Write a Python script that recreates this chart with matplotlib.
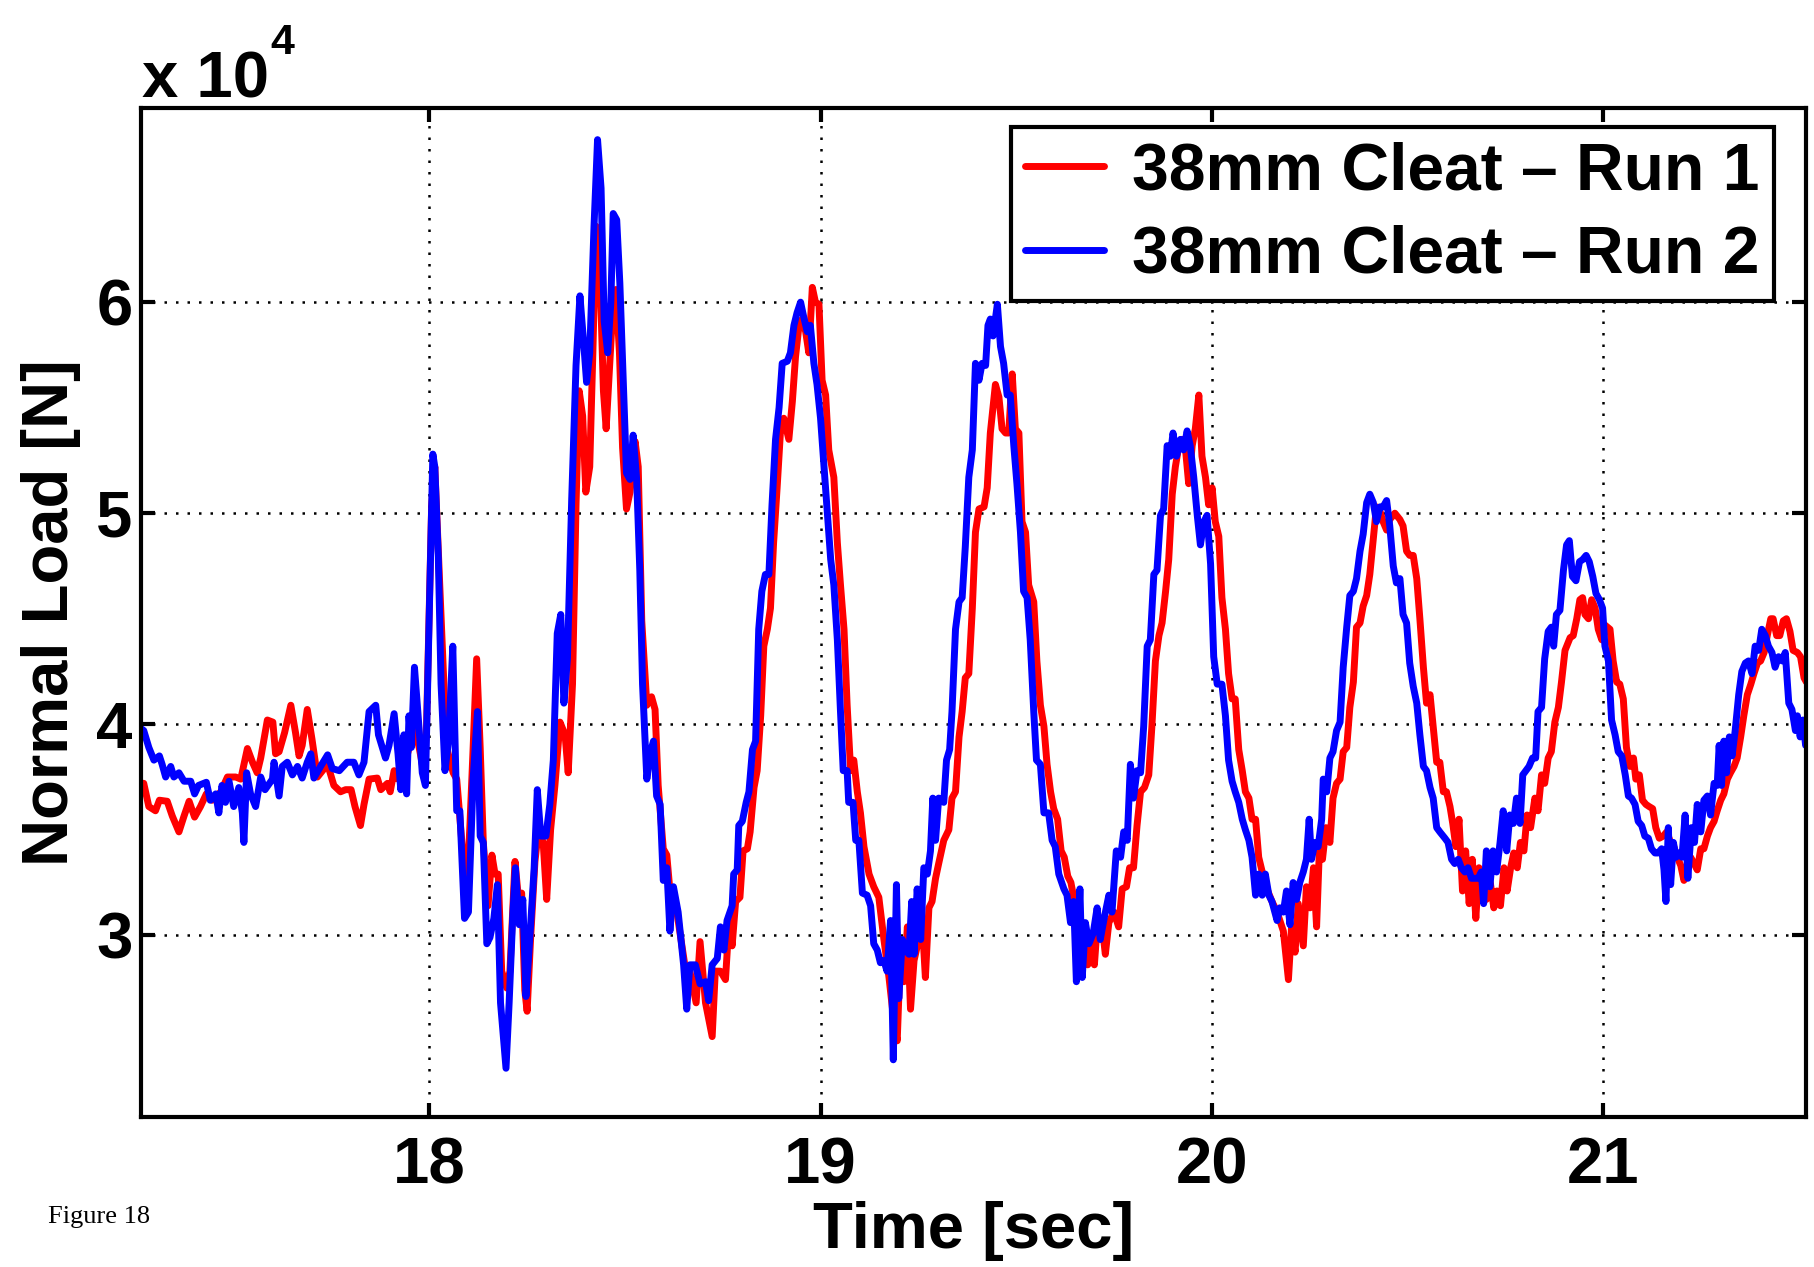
import matplotlib
matplotlib.use('Agg')
import matplotlib.pyplot as plt

plt.rcParams['font.family'] = ['Liberation Sans', 'DejaVu Sans']
plt.rcParams['font.weight'] = 'bold'

# Normal load in units of 10^4 N
t_run1 = [
    17.263, 17.270, 17.283, 17.300, 17.310, 17.330, 17.343, 17.360, 17.373, 17.386,
    17.400, 17.415, 17.430, 17.445, 17.467, 17.484, 17.505, 17.518, 17.535, 17.548,
    17.560, 17.569, 17.586, 17.600, 17.607, 17.616, 17.630, 17.646, 17.658, 17.667,
    17.675, 17.688, 17.700, 17.714, 17.740, 17.756, 17.773, 17.786, 17.800, 17.810,
    17.824, 17.833, 17.846, 17.867, 17.876, 17.893, 17.900, 17.910, 17.920, 17.935,
    17.948, 17.960, 17.974, 17.986, 17.993, 18.006, 18.014, 18.027, 18.036, 18.044,
    18.061, 18.070, 18.078, 18.095, 18.104, 18.112, 18.121, 18.130, 18.138, 18.150,
    18.160, 18.168, 18.176, 18.185, 18.198, 18.206, 18.219, 18.228, 18.236, 18.244,
    18.250, 18.259, 18.270, 18.279, 18.291, 18.300, 18.310, 18.321, 18.334, 18.347,
    18.355, 18.366, 18.375, 18.383, 18.392, 18.400, 18.410, 18.418, 18.426, 18.436,
    18.445, 18.452, 18.460, 18.469, 18.477, 18.486, 18.494, 18.504, 18.513, 18.526,
    18.534, 18.543, 18.556, 18.568, 18.577, 18.585, 18.598, 18.607, 18.617, 18.628,
    18.640, 18.653, 18.666, 18.682, 18.692, 18.706, 18.723, 18.731, 18.744, 18.757,
    18.766, 18.774, 18.783, 18.794, 18.802, 18.813, 18.820, 18.830, 18.838, 18.847,
    18.855, 18.864, 18.872, 18.880, 18.889, 18.898, 18.906, 18.919, 18.928, 18.936,
    18.945, 18.953, 18.962, 18.970, 18.979, 18.987, 18.996, 19.004, 19.013, 19.021,
    19.034, 19.043, 19.051, 19.060, 19.068, 19.077, 19.085, 19.094, 19.102, 19.111,
    19.124, 19.136, 19.149, 19.162, 19.175, 19.187, 19.196, 19.204, 19.213, 19.222,
    19.230, 19.239, 19.251, 19.260, 19.268, 19.277, 19.285, 19.294, 19.302, 19.315,
    19.328, 19.336, 19.345, 19.354, 19.362, 19.370, 19.379, 19.388, 19.396, 19.405,
    19.418, 19.426, 19.434, 19.447, 19.456, 19.464, 19.473, 19.481, 19.490, 19.498,
    19.507, 19.515, 19.524, 19.532, 19.545, 19.553, 19.562, 19.571, 19.579, 19.588,
    19.596, 19.606, 19.615, 19.623, 19.632, 19.640, 19.649, 19.660, 19.673, 19.683,
    19.692, 19.700, 19.709, 19.720, 19.728, 19.737, 19.750, 19.762, 19.771, 19.782,
    19.790, 19.800, 19.809, 19.818, 19.828, 19.839, 19.847, 19.856, 19.865, 19.873,
    19.882, 19.890, 19.899, 19.907, 19.916, 19.924, 19.933, 19.941, 19.950, 19.958,
    19.967, 19.975, 19.984, 19.992, 20.001, 20.009, 20.018, 20.026, 20.035, 20.043,
    20.052, 20.060, 20.069, 20.078, 20.086, 20.095, 20.103, 20.112, 20.120, 20.133,
    20.141, 20.154, 20.167, 20.174, 20.183, 20.196, 20.204, 20.213, 20.221, 20.234,
    20.242, 20.251, 20.260, 20.268, 20.275, 20.283, 20.292, 20.302, 20.310, 20.319,
    20.328, 20.336, 20.345, 20.353, 20.362, 20.370, 20.379, 20.387, 20.396, 20.404,
    20.413, 20.421, 20.430, 20.438, 20.447, 20.455, 20.468, 20.481, 20.489, 20.498,
    20.506, 20.515, 20.524, 20.532, 20.541, 20.549, 20.558, 20.566, 20.575, 20.583,
    20.592, 20.600, 20.609, 20.616, 20.624, 20.632, 20.641, 20.649, 20.658, 20.666,
    20.675, 20.683, 20.694, 20.702, 20.712, 20.721, 20.729, 20.738, 20.747, 20.755,
    20.764, 20.772, 20.781, 20.789, 20.798, 20.806, 20.815, 20.826, 20.834, 20.843,
    20.851, 20.860, 20.868, 20.877, 20.886, 20.894, 20.903, 20.916, 20.924, 20.933,
    20.941, 20.948, 20.954, 20.963, 20.971, 20.980, 20.988, 20.997, 21.005, 21.018,
    21.026, 21.035, 21.043, 21.052, 21.060, 21.069, 21.078, 21.084, 21.093, 21.101,
    21.110, 21.118, 21.127, 21.135, 21.144, 21.154, 21.163, 21.173, 21.181, 21.190,
    21.199, 21.207, 21.216, 21.224, 21.233, 21.241, 21.250, 21.258, 21.267, 21.275,
    21.284, 21.292, 21.301, 21.309, 21.318, 21.326, 21.335, 21.343, 21.352, 21.360,
    21.369, 21.378, 21.386, 21.395, 21.403, 21.412, 21.420, 21.429, 21.435, 21.444,
    21.452, 21.461, 21.469, 21.478, 21.486, 21.497, 21.505, 21.514, 21.520,
]
load_run1 = [
    3.72, 3.72, 3.61, 3.59, 3.64, 3.635, 3.565, 3.49, 3.565, 3.635,
    3.56, 3.61, 3.67, 3.64, 3.68, 3.75, 3.75, 3.74, 3.885, 3.82,
    3.77, 3.84, 4.02, 4.01, 3.86, 3.87, 3.96, 4.09, 3.96, 3.85,
    3.90, 4.07, 3.93, 3.75, 3.81, 3.71, 3.68, 3.69, 3.69, 3.61,
    3.52, 3.62, 3.74, 3.745, 3.69, 3.72, 3.68, 3.78, 3.74, 3.80,
    3.885, 4.00, 3.89, 3.77, 4.00, 5.04, 5.22, 4.64, 4.25, 3.89,
    3.77, 3.74, 3.56, 3.17, 3.53, 3.89, 4.31, 3.89, 3.44, 3.14,
    3.38, 3.29, 3.29, 2.83, 2.75, 2.83, 3.35, 3.17, 3.20, 2.74,
    2.64, 2.99, 3.35, 3.50, 3.44, 3.17, 3.50, 3.71, 4.01, 3.95,
    3.77, 4.19, 5.04, 5.58, 5.46, 5.10, 5.22, 5.76, 6.36, 6.15,
    5.58, 5.40, 5.67, 5.97, 6.06, 5.76, 5.31, 5.02, 5.10, 5.34,
    5.22, 4.49, 4.09, 4.13, 4.07, 3.71, 3.41, 3.38, 3.17, 3.17,
    3.02, 2.86, 2.83, 2.68, 2.97, 2.68, 2.52, 2.83, 2.83, 2.79,
    3.06, 2.95, 3.16, 3.18, 3.40, 3.41, 3.49, 3.70, 3.78, 4.04,
    4.37, 4.45, 4.55, 4.86, 5.12, 5.40, 5.45, 5.35, 5.53, 5.74,
    5.89, 5.92, 5.86, 5.76, 6.07, 6.00, 5.99, 5.63, 5.56, 5.30,
    5.17, 4.86, 4.66, 4.45, 4.09, 3.78, 3.83, 3.68, 3.58, 3.42,
    3.29, 3.23, 3.18, 2.98, 2.80, 2.60, 2.50, 2.91, 2.78, 3.04,
    2.65, 2.88, 2.98, 3.06, 2.80, 3.13, 3.16, 3.27, 3.34, 3.45,
    3.50, 3.65, 3.68, 3.94, 4.06, 4.22, 4.24, 4.55, 4.91, 5.02,
    5.03, 5.12, 5.38, 5.61, 5.55, 5.40, 5.38, 5.38, 5.66, 5.40,
    5.38, 4.96, 4.91, 4.66, 4.58, 4.30, 4.09, 3.99, 3.81, 3.68,
    3.60, 3.55, 3.40, 3.37, 3.28, 3.25, 3.16, 3.09, 3.04, 2.86,
    3.01, 2.86, 3.09, 3.04, 2.91, 3.06, 3.11, 3.04, 3.22, 3.23,
    3.32, 3.32, 3.52, 3.68, 3.70, 3.76, 3.99, 4.30, 4.42, 4.48,
    4.63, 4.78, 5.09, 5.22, 5.32, 5.35, 5.30, 5.14, 5.32, 5.40,
    5.56, 5.27, 5.17, 5.04, 5.12, 4.96, 4.89, 4.60, 4.45, 4.24,
    4.12, 4.12, 3.88, 3.78, 3.68, 3.65, 3.55, 3.55, 3.37, 3.27,
    3.22, 3.16, 3.11, 3.07, 3.02, 2.79, 3.04, 2.92, 3.15, 2.95,
    3.23, 3.13, 3.32, 3.04, 3.40, 3.36, 3.51, 3.44, 3.65, 3.72,
    3.74, 3.87, 3.89, 4.08, 4.20, 4.46, 4.48, 4.56, 4.61, 4.71,
    4.88, 5.03, 5.01, 4.96, 4.92, 4.97, 5.00, 4.97, 4.94, 4.82,
    4.80, 4.80, 4.69, 4.50, 4.27, 4.10, 4.14, 3.99, 3.82, 3.82,
    3.68, 3.68, 3.61, 3.53, 3.42, 3.55, 3.21, 3.40, 3.15, 3.36,
    3.08, 3.32, 3.27, 3.17, 3.25, 3.13, 3.21, 3.14, 3.32, 3.21,
    3.32, 3.39, 3.32, 3.44, 3.40, 3.57, 3.51, 3.65, 3.59, 3.76,
    3.72, 3.84, 3.87, 4.01, 4.08, 4.20, 4.35, 4.41, 4.42, 4.50,
    4.59, 4.60, 4.52, 4.50, 4.59, 4.55, 4.45, 4.40, 4.47, 4.45,
    4.30, 4.20, 4.19, 4.12, 3.89, 3.80, 3.84, 3.74, 3.76, 3.64,
    3.62, 3.61, 3.60, 3.51, 3.46, 3.47, 3.49, 3.44, 3.42, 3.37,
    3.33, 3.26, 3.31, 3.37, 3.34, 3.31, 3.41, 3.41, 3.47, 3.51,
    3.54, 3.59, 3.64, 3.67, 3.74, 3.77, 3.80, 3.84, 3.94, 4.04,
    4.14, 4.19, 4.24, 4.29, 4.30, 4.34, 4.42, 4.50, 4.50, 4.42,
    4.42, 4.49, 4.50, 4.44, 4.35, 4.34, 4.32, 4.22, 4.20,
]

t_run2 = [
    17.263, 17.270, 17.283, 17.296, 17.310, 17.317, 17.326, 17.339, 17.347, 17.360,
    17.373, 17.390, 17.400, 17.410, 17.430, 17.440, 17.454, 17.462, 17.470, 17.479,
    17.488, 17.500, 17.513, 17.522, 17.526, 17.533, 17.543, 17.556, 17.569, 17.580,
    17.599, 17.603, 17.616, 17.624, 17.637, 17.650, 17.663, 17.675, 17.688, 17.697,
    17.705, 17.722, 17.740, 17.752, 17.770, 17.790, 17.807, 17.820, 17.833, 17.846,
    17.863, 17.870, 17.888, 17.897, 17.910, 17.920, 17.927, 17.935, 17.942, 17.948,
    17.954, 17.962, 17.971, 17.982, 17.990, 18.009, 18.014, 18.023, 18.030, 18.040,
    18.049, 18.060, 18.070, 18.078, 18.090, 18.100, 18.112, 18.123, 18.130, 18.138,
    18.147, 18.155, 18.165, 18.174, 18.182, 18.196, 18.204, 18.213, 18.220, 18.230,
    18.239, 18.247, 18.257, 18.268, 18.276, 18.285, 18.298, 18.308, 18.317, 18.327,
    18.336, 18.344, 18.353, 18.364, 18.375, 18.385, 18.394, 18.402, 18.410, 18.421,
    18.430, 18.439, 18.447, 18.456, 18.464, 18.470, 18.479, 18.487, 18.496, 18.504,
    18.513, 18.521, 18.530, 18.538, 18.545, 18.556, 18.564, 18.573, 18.581, 18.590,
    18.598, 18.607, 18.615, 18.624, 18.636, 18.650, 18.658, 18.666, 18.680, 18.692,
    18.706, 18.714, 18.723, 18.736, 18.744, 18.753, 18.761, 18.774, 18.778, 18.787,
    18.791, 18.800, 18.810, 18.817, 18.826, 18.834, 18.842, 18.850, 18.859, 18.868,
    18.876, 18.885, 18.894, 18.902, 18.915, 18.923, 18.932, 18.940, 18.949, 18.957,
    18.966, 18.974, 18.983, 18.991, 19.000, 19.009, 19.017, 19.026, 19.034, 19.043,
    19.051, 19.058, 19.068, 19.072, 19.083, 19.090, 19.098, 19.107, 19.119, 19.128,
    19.136, 19.145, 19.153, 19.162, 19.170, 19.179, 19.186, 19.194, 19.200, 19.209,
    19.217, 19.226, 19.233, 19.239, 19.247, 19.256, 19.264, 19.273, 19.281, 19.287,
    19.294, 19.302, 19.315, 19.322, 19.330, 19.336, 19.345, 19.354, 19.362, 19.370,
    19.379, 19.388, 19.396, 19.405, 19.413, 19.422, 19.428, 19.434, 19.441, 19.452,
    19.460, 19.468, 19.477, 19.485, 19.494, 19.502, 19.511, 19.519, 19.528, 19.536,
    19.545, 19.552, 19.562, 19.571, 19.583, 19.592, 19.600, 19.609, 19.622, 19.630,
    19.639, 19.647, 19.654, 19.663, 19.669, 19.677, 19.686, 19.697, 19.707, 19.715,
    19.726, 19.737, 19.745, 19.756, 19.767, 19.775, 19.784, 19.792, 19.800, 19.809,
    19.818, 19.826, 19.835, 19.843, 19.852, 19.860, 19.869, 19.877, 19.886, 19.894,
    19.901, 19.910, 19.920, 19.928, 19.937, 19.945, 19.954, 19.963, 19.971, 19.980,
    19.988, 19.997, 20.005, 20.014, 20.026, 20.035, 20.043, 20.052, 20.060, 20.069,
    20.078, 20.086, 20.095, 20.103, 20.112, 20.120, 20.129, 20.137, 20.146, 20.154,
    20.167, 20.174, 20.183, 20.191, 20.200, 20.208, 20.217, 20.225, 20.234, 20.242,
    20.249, 20.255, 20.264, 20.272, 20.281, 20.285, 20.294, 20.302, 20.310, 20.319,
    20.328, 20.336, 20.345, 20.353, 20.362, 20.370, 20.379, 20.387, 20.396, 20.404,
    20.413, 20.421, 20.430, 20.438, 20.447, 20.455, 20.464, 20.472, 20.481, 20.489,
    20.498, 20.506, 20.515, 20.524, 20.532, 20.541, 20.549, 20.558, 20.566, 20.575,
    20.583, 20.596, 20.604, 20.613, 20.621, 20.630, 20.638, 20.647, 20.655, 20.664,
    20.672, 20.681, 20.689, 20.695, 20.702, 20.711, 20.719, 20.728, 20.737, 20.745,
    20.754, 20.762, 20.771, 20.779, 20.788, 20.795, 20.803, 20.811, 20.820, 20.828,
    20.834, 20.843, 20.851, 20.860, 20.868, 20.874, 20.881, 20.890, 20.899, 20.907,
    20.914, 20.922, 20.931, 20.940, 20.948, 20.957, 20.965, 20.974, 20.982, 20.991,
    20.999, 21.005, 21.014, 21.022, 21.031, 21.039, 21.048, 21.057, 21.065, 21.073,
    21.082, 21.090, 21.099, 21.107, 21.116, 21.124, 21.133, 21.141, 21.150, 21.156,
    21.161, 21.167, 21.173, 21.180, 21.187, 21.193, 21.202, 21.210, 21.217, 21.226,
    21.234, 21.241, 21.250, 21.258, 21.267, 21.275, 21.284, 21.292, 21.297, 21.303,
    21.309, 21.316, 21.323, 21.330, 21.338, 21.347, 21.355, 21.364, 21.372, 21.381,
    21.389, 21.398, 21.406, 21.415, 21.423, 21.432, 21.440, 21.449, 21.458, 21.466,
    21.475, 21.483, 21.492, 21.497, 21.504, 21.511, 21.518,
]
load_run2 = [
    3.98, 3.97, 3.89, 3.83, 3.85, 3.81, 3.75, 3.80, 3.75, 3.77,
    3.73, 3.73, 3.67, 3.71, 3.725, 3.64, 3.67, 3.58, 3.71, 3.63,
    3.73, 3.61, 3.70, 3.58, 3.44, 3.77, 3.67, 3.61, 3.75, 3.69,
    3.74, 3.82, 3.66, 3.80, 3.82, 3.76, 3.80, 3.745, 3.82, 3.86,
    3.745, 3.80, 3.855, 3.79, 3.78, 3.82, 3.82, 3.76, 3.82, 4.06,
    4.09, 3.95, 3.84, 3.90, 4.05, 3.86, 3.69, 3.95, 3.67, 4.04,
    3.89, 4.27, 4.05, 3.77, 3.71, 5.28, 5.22, 4.79, 4.19, 3.78,
    3.92, 4.37, 3.59, 3.59, 3.08, 3.11, 3.74, 4.06, 3.47, 3.44,
    2.96, 2.99, 3.08, 3.24, 2.68, 2.37, 2.68, 3.08, 3.32, 3.05,
    3.17, 2.71, 2.99, 3.32, 3.69, 3.47, 3.47, 3.62, 3.83, 4.43,
    4.52, 4.10, 4.31, 5.07, 5.70, 6.03, 5.82, 5.62, 5.76, 6.36,
    6.77, 6.54, 5.91, 5.76, 6.00, 6.42, 6.39, 6.09, 5.61, 5.19,
    5.16, 5.37, 5.16, 4.73, 4.19, 3.74, 3.86, 3.92, 3.66, 3.62,
    3.26, 3.32, 3.02, 3.23, 3.11, 2.86, 2.65, 2.86, 2.86, 2.77,
    2.78, 2.69, 2.86, 2.89, 3.04, 2.93, 3.07, 3.14, 3.29, 3.31,
    3.52, 3.54, 3.63, 3.68, 3.88, 3.92, 4.45, 4.63, 4.71, 4.71,
    5.04, 5.35, 5.50, 5.71, 5.72, 5.76, 5.89, 5.95, 6.00, 5.93,
    5.86, 5.89, 5.71, 5.61, 5.45, 5.22, 5.02, 4.78, 4.66, 4.40,
    4.06, 3.78, 3.78, 3.63, 3.63, 3.45, 3.45, 3.20, 3.19, 3.14,
    2.96, 2.93, 2.87, 2.88, 2.83, 3.07, 2.41, 3.24, 2.70, 2.98,
    2.93, 2.91, 3.16, 2.91, 3.22, 2.98, 3.32, 3.29, 3.40, 3.65,
    3.45, 3.65, 3.63, 3.83, 3.88, 4.06, 4.45, 4.58, 4.60, 4.84,
    5.17, 5.30, 5.71, 5.63, 5.71, 5.70, 5.89, 5.92, 5.84, 5.99,
    5.79, 5.71, 5.56, 5.56, 5.32, 5.14, 4.91, 4.63, 4.60, 4.40,
    4.06, 3.83, 3.81, 3.58, 3.58, 3.45, 3.42, 3.29, 3.22, 3.19,
    3.06, 3.16, 2.78, 3.22, 2.80, 3.06, 2.96, 3.01, 3.13, 2.98,
    3.09, 3.19, 3.11, 3.40, 3.37, 3.49, 3.45, 3.81, 3.65, 3.78,
    3.77, 3.99, 4.37, 4.40, 4.71, 4.73, 4.99, 5.02, 5.32, 5.27,
    5.38, 5.27, 5.35, 5.30, 5.39, 5.32, 5.17, 4.99, 4.85, 4.96,
    4.99, 4.76, 4.32, 4.19, 4.19, 4.04, 3.83, 3.73, 3.68, 3.63,
    3.55, 3.50, 3.45, 3.37, 3.19, 3.29, 3.19, 3.29, 3.19, 3.16,
    3.07, 3.13, 3.11, 3.21, 3.05, 3.25, 3.17, 3.25, 3.30, 3.36,
    3.55, 3.36, 3.44, 3.42, 3.55, 3.74, 3.68, 3.84, 3.87, 3.97,
    4.01, 4.27, 4.46, 4.61, 4.63, 4.69, 4.82, 4.90, 5.05, 5.09,
    5.05, 4.96, 5.03, 5.03, 5.06, 4.94, 4.75, 4.67, 4.69, 4.52,
    4.48, 4.29, 4.18, 4.10, 3.95, 3.80, 3.78, 3.70, 3.65, 3.51,
    3.49, 3.46, 3.44, 3.36, 3.34, 3.36, 3.32, 3.30, 3.32, 3.27,
    3.27, 3.27, 3.30, 3.15, 3.40, 3.23, 3.40, 3.30, 3.44, 3.59,
    3.40, 3.57, 3.53, 3.65, 3.53, 3.76, 3.78, 3.80, 3.84, 3.84,
    4.06, 4.08, 4.31, 4.44, 4.46, 4.37, 4.52, 4.54, 4.73, 4.85,
    4.87, 4.70, 4.68, 4.77, 4.78, 4.80, 4.77, 4.70, 4.62, 4.59,
    4.55, 4.37, 4.30, 4.02, 3.95, 3.87, 3.85, 3.76, 3.66, 3.65,
    3.62, 3.54, 3.52, 3.47, 3.46, 3.41, 3.39, 3.39, 3.41, 3.31,
    3.16, 3.51, 3.24, 3.44, 3.37, 3.39, 3.37, 3.57, 3.27, 3.51,
    3.44, 3.62, 3.49, 3.64, 3.66, 3.57, 3.72, 3.71, 3.90, 3.71,
    3.92, 3.77, 3.94, 3.85, 3.97, 4.14, 4.25, 4.29, 4.30, 4.24,
    4.37, 4.35, 4.45, 4.42, 4.37, 4.34, 4.27, 4.32, 4.30, 4.34,
    4.10, 4.07, 3.97, 4.04, 3.94, 4.02, 3.90,
]

x_ticks = [18, 19, 20, 21]
y_ticks = [3, 4, 5, 6]
labels = ['38mm Cleat \u2013 Run 1', '38mm Cleat \u2013 Run 2']

W, H = 1815, 1267
fig = plt.figure(figsize=(W / 100, H / 100), dpi=100)
# axes box in pixels: left 141, right 1806, top 108, bottom 1117
ax = fig.add_axes([141 / W, 1 - 1117 / H, (1806 - 141) / W, (1117 - 108) / H])

ax.plot(t_run1, load_run1, color='#ff0000', lw=5, label=labels[0],
        solid_joinstyle='round', solid_capstyle='round')
ax.plot(t_run2, load_run2, color='#0000ff', lw=5, label=labels[1],
        solid_joinstyle='round', solid_capstyle='round')

ax.set_xlim(17.263, 21.519)
ax.set_ylim(2.139, 6.92)
ax.set_xticks(x_ticks)
ax.set_yticks(y_ticks)
ax.tick_params(direction='in', length=10, width=3, top=True, right=True,
               labelsize=47)
ax.tick_params(axis='x', pad=14)
ax.tick_params(axis='y', pad=6)
for s in ax.spines.values():
    s.set_linewidth(3)
ax.grid(True, color='k', linestyle=(0, (1, 3.6)), linewidth=1.8)

ax.set_xlabel('Time [sec]', fontsize=47, fontweight='bold')
ax.set_ylabel('Normal Load [N]', fontsize=47, fontweight='bold')
ax.xaxis.set_label_coords(0.5, -0.083)
ax.yaxis.set_label_coords(-0.036, 0.5)

leg = ax.legend(loc='upper right', bbox_to_anchor=(0.9808, 0.9812),
                borderaxespad=0, fontsize=47.5, handlelength=1.2,
                handletextpad=0.42, borderpad=0.22, labelspacing=0.32,
                fancybox=False, edgecolor='k', framealpha=1)
leg.get_frame().set_linewidth(3)

# MATLAB style exponent above the axes
fig.text(142 / W, 1 - 97 / H, 'x 10', fontsize=47, ha='left', va='baseline')
fig.text(270 / W, 1 - 54 / H, '4', fontsize=31, ha='left', va='baseline')

fig.text(48 / W, 1 - 1223 / H, 'Figure 18', family='Liberation Serif',
         fontsize=19, weight='normal', ha='left', va='baseline')

fig.savefig('out.png', dpi=100)
